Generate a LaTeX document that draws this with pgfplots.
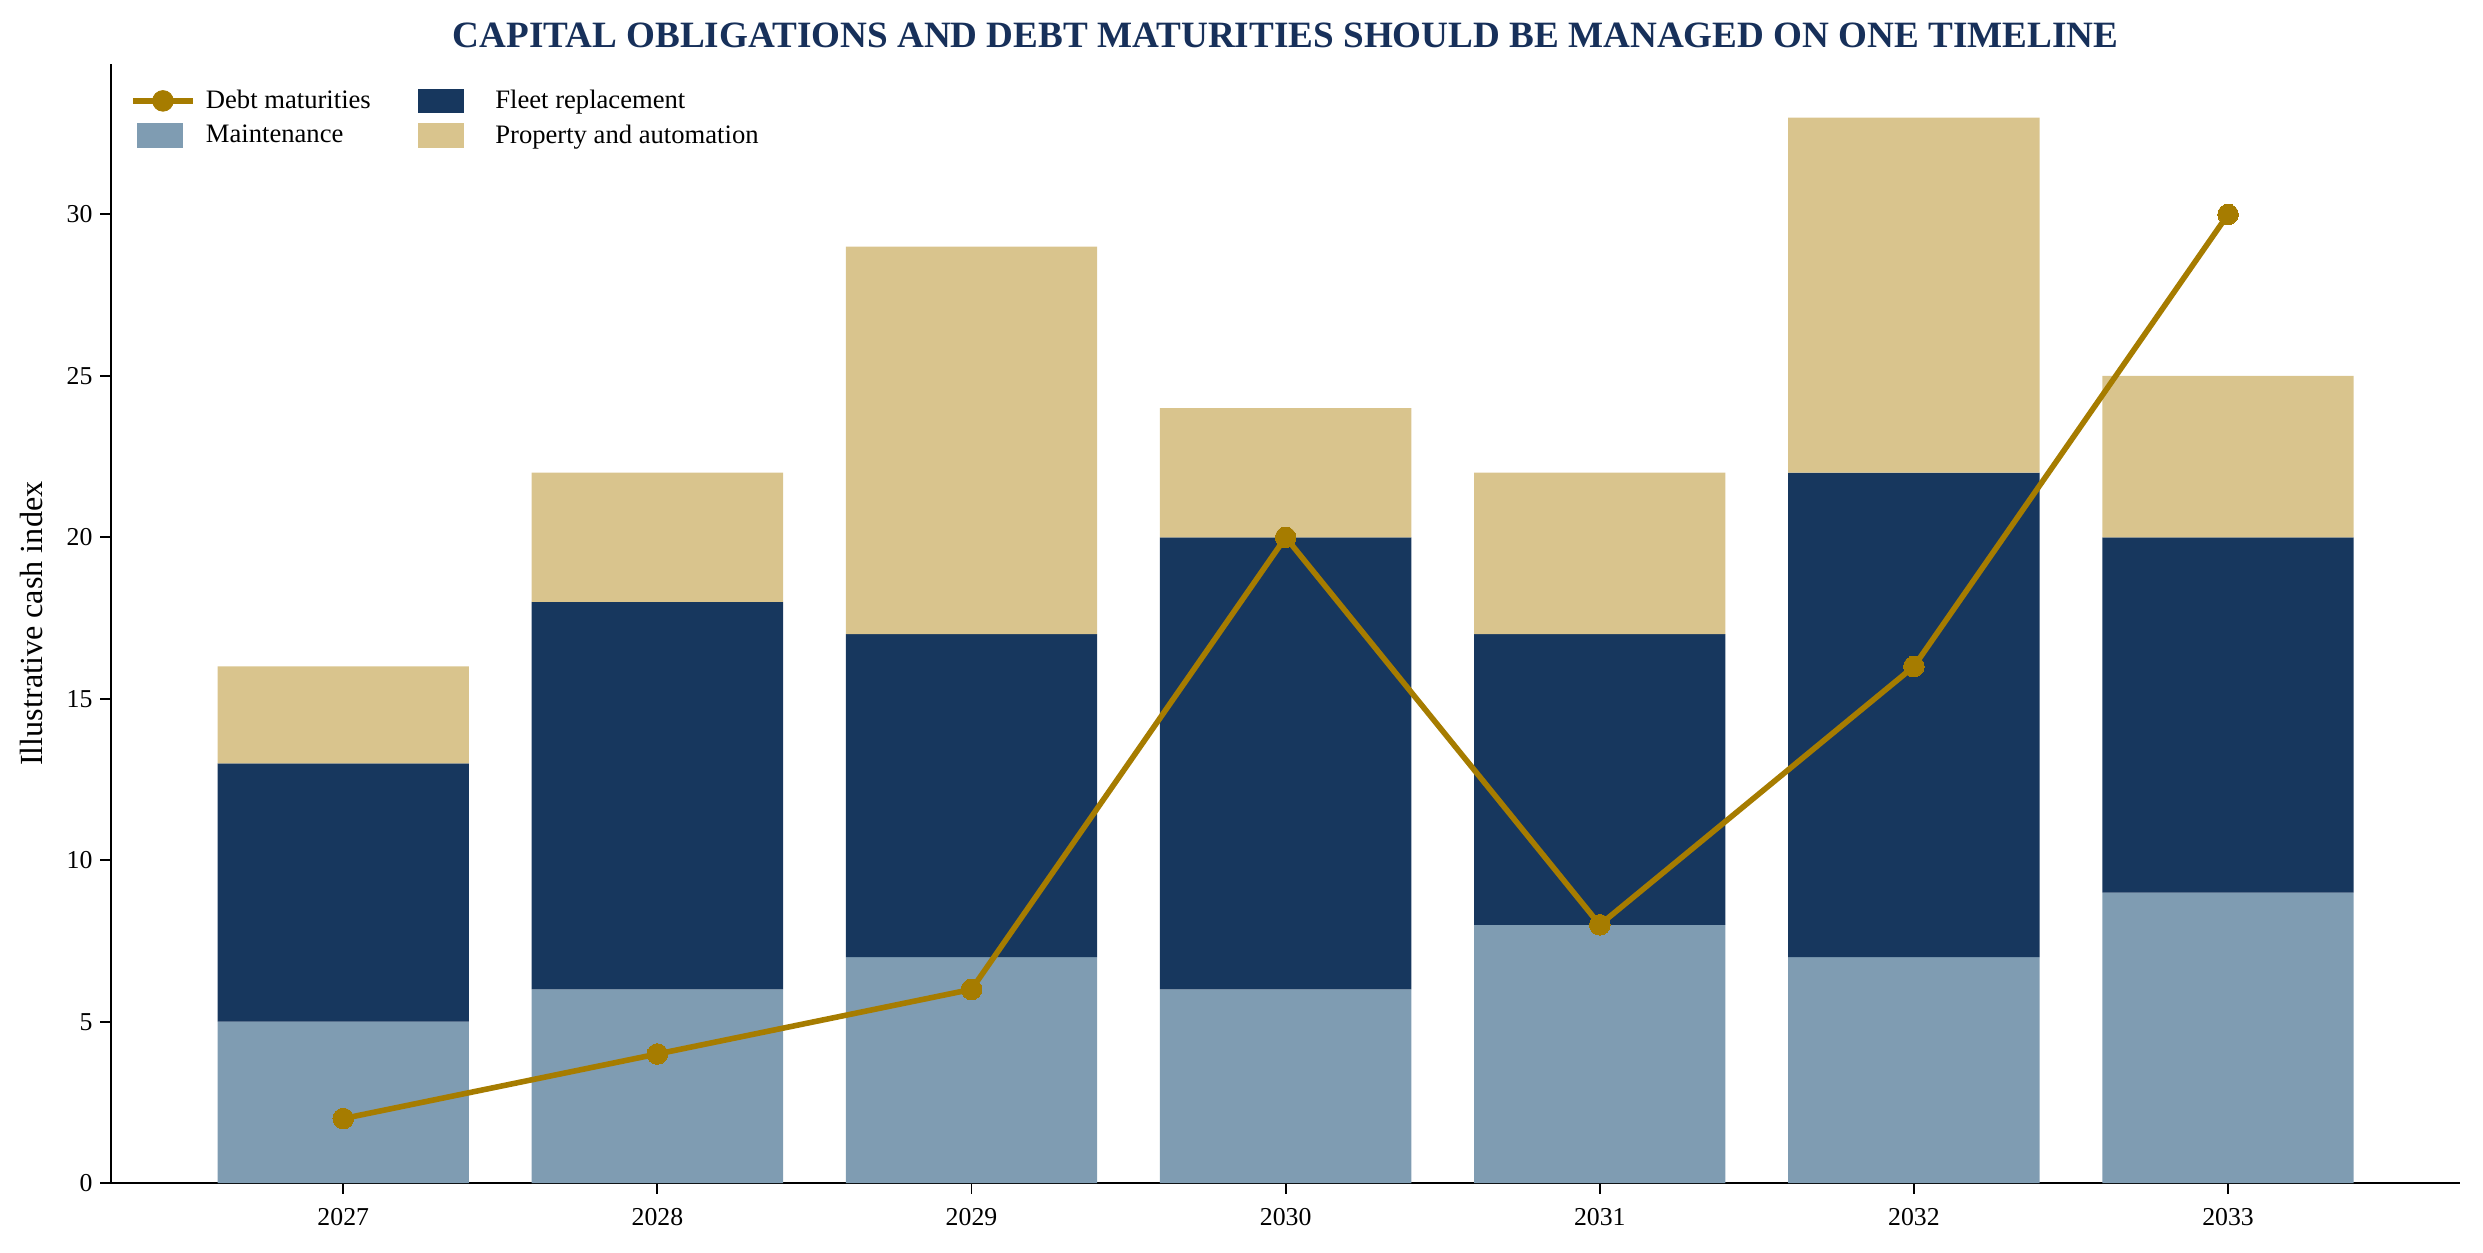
\documentclass[border=0pt]{standalone}
\usepackage{fontspec}
\setmainfont{Liberation Serif}
\usepackage{pgfplots}
\pgfplotsset{compat=1.18}
\definecolor{maint}{HTML}{7F9CB2}
\definecolor{fleet}{HTML}{17375E}
\definecolor{prop}{HTML}{D9C48D}
\definecolor{debt}{HTML}{A67C00}
\definecolor{titlec}{HTML}{17305A}
\begin{document}
\begin{tikzpicture}
\path[use as bounding box] (-0.714in,-0.45in) rectangle (15.286in,7.624in);
\begin{axis}[
  scale only axis,
  width=15.14in, height=7.21in,
  at={(0,0)}, anchor=south west,
  ybar stacked, bar width=0.8,
  reverse stacked plots=false,
  xmin=-0.74, xmax=6.74,
  ymin=0, ymax=34.65,
  xtick={0,1,2,3,4,5,6},
  xticklabels={2027,2028,2029,2030,2031,2032,2033},
  ytick={0,5,10,15,20,25,30},
  axis x line*=bottom, axis y line*=left,
  axis line style={line width=0.9pt},
  tick style={black, line width=0.9pt},
  tick align=outside, major tick length=5pt,
  x axis line style={-}, y axis line style={-},
  /pgf/number format/assume math mode=true,
  ticklabel style={font=\fontsize{12}{14}\selectfont},
  xticklabel style={yshift=-3pt},
  ylabel={Illustrative cash index},
  every axis y label/.style={at={(axis description cs:-0.0337,0.5)}, rotate=90, anchor=center, font=\fontsize{15}{17}\selectfont},
  title={\textbf{CAPITAL OBLIGATIONS AND DEBT MATURITIES SHOULD BE MANAGED ON ONE TIMELINE}},
  title style={at={(axis description cs:0.5,1)}, anchor=base, yshift=2pt, font=\fontsize{17.3}{20}\selectfont, text=titlec},
  legend style={draw=none, fill=none, at={(0.0053,0.985)}, anchor=north west,
    font=\fontsize{12.4}{14}\selectfont, /tikz/every even column/.append style={column sep=18pt},
    row sep=2pt},
  legend columns=2,
  legend cell align=left,
]
\addplot[fill=maint, draw=none, forget plot] coordinates {(0,5) (1,6) (2,7) (3,6) (4,8) (5,7) (6,9)};
\addplot[fill=fleet, draw=none, forget plot] coordinates {(0,8) (1,12) (2,10) (3,14) (4,9) (5,15) (6,11)};
\addplot[fill=prop, draw=none, forget plot] coordinates {(0,3) (1,4) (2,12) (3,4) (4,5) (5,11) (6,5)};
\addplot[stack plots=false, sharp plot, color=debt, line width=2.6pt, mark=*, mark size=4.8pt, mark options={fill=debt, draw=debt, line width=0pt}, forget plot]
  coordinates {(0,2) (1,4) (2,6) (3,20) (4,8) (5,16) (6,30)};
\addlegendimage{legend image code/.code={\path[draw=none,fill=none] (0pt,0pt) -- (32pt,0pt); \draw[debt, line width=2.6pt] (0pt,0pt) -- (28pt,0pt); \fill[debt] (14pt,0pt) circle (4.8pt);}}
\addlegendentry{Debt maturities}
\addlegendimage{legend image code/.code={\path[draw=none,fill=none] (0pt,0pt) -- (36pt,0pt); \fill[fleet] (2pt,-5.5pt) rectangle (23pt,5.5pt);}}
\addlegendentry{Fleet replacement}
\addlegendimage{legend image code/.code={\path[draw=none,fill=none] (0pt,0pt) -- (32pt,0pt); \fill[maint] (2pt,-5.5pt) rectangle (23pt,5.5pt);}}
\addlegendentry{Maintenance}
\addlegendimage{legend image code/.code={\path[draw=none,fill=none] (0pt,0pt) -- (36pt,0pt); \fill[prop] (2pt,-5.5pt) rectangle (23pt,5.5pt);}}
\addlegendentry{Property and automation}
\end{axis}
\end{tikzpicture}
\end{document}
